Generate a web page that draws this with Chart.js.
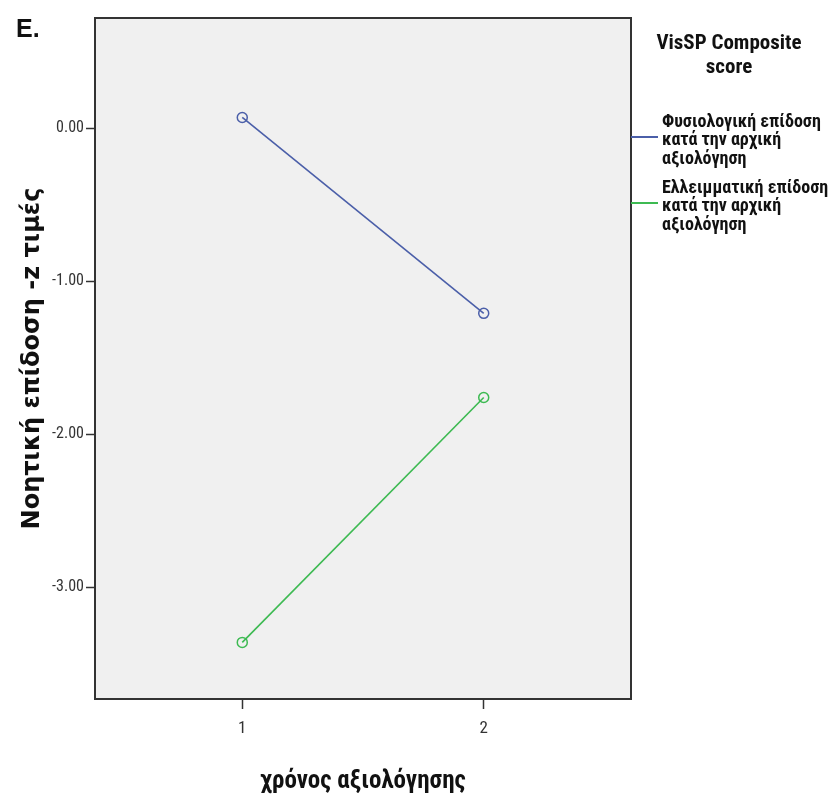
<!DOCTYPE html>
<html>
<head>
<meta charset="utf-8">
<script src="https://cdn.jsdelivr.net/npm/chart.js@4/dist/chart.umd.min.js"></script>
<style>
  html, body { margin: 0; padding: 0; background: #ffffff; }
  #wrap { width: 832px; height: 801px; position: relative; }
</style>
</head>
<body>
<div id="wrap"><canvas id="grafica"></canvas></div>
<script>
// datos
var tiempos = [1, 2];
var normal = [0.07, -1.21];
var deficit = [-3.36, -1.76];
var etiquetasSeries = ["Φυσιολογική επίδοση κατά την αρχική αξιολόγηση", "Ελλειμματική επίδοση κατά την αρχική αξιολόγηση"];
var lineasLeyenda = [["Φυσιολογική επίδοση", "κατά την αρχική", "αξιολόγηση"], ["Ελλειμματική επίδοση", "κατά την αρχική", "αξιολόγηση"]];
var tituloLeyenda = ["VisSP Composite", "score"];
var ticksX = [1, 2];
var ticksY = [0, -1, -2, -3];
var colores = ["#4b5fa9", "#3dba52"];

var fuenteEstrecha = "'Liberation Sans Narrow', 'Arial Narrow', 'Roboto Condensed', 'Liberation Sans', sans-serif";

function puntos(valores) {
  return tiempos.map(function (t, i) { return { x: t, y: valores[i] }; });
}

// fondo gris del área y marco negro
var marcoPlugin = {
  id: "marco",
  beforeDatasetsDraw: function (chart) {
    var a = chart.chartArea, ctx = chart.ctx;
    ctx.save();
    ctx.fillStyle = "#f0f0f0";
    ctx.fillRect(a.left, a.top, a.right - a.left, a.bottom - a.top);
    ctx.restore();
  },
  afterDraw: function (chart) {
    var a = chart.chartArea, ctx = chart.ctx;
    ctx.save();
    ctx.strokeStyle = "#333333";
    ctx.lineWidth = 2;
    ctx.strokeRect(a.left, a.top, a.right - a.left, a.bottom - a.top);
    // letra del panel
    ctx.fillStyle = "#111111";
    ctx.font = "bold 25px 'Liberation Sans', Arial, sans-serif";
    ctx.textBaseline = "alphabetic";
    ctx.textAlign = "left";
    ctx.fillText("E.", 16, 37);
    ctx.restore();
  }
};

// leyenda dibujada a mano, a la derecha del área
var leyendaPlugin = {
  id: "leyendaDerecha",
  afterDraw: function (chart) {
    var a = chart.chartArea, ctx = chart.ctx;
    ctx.save();
    ctx.fillStyle = "#111111";
    ctx.font = "bold 21px " + fuenteEstrecha;
    ctx.textAlign = "center";
    ctx.textBaseline = "middle";
    ctx.fillText(tituloLeyenda[0], 729, 44);
    ctx.fillText(tituloLeyenda[1], 729, 68);

    ctx.font = "bold 18px " + fuenteEstrecha;
    ctx.textAlign = "left";
    var y0 = 122, paso = 18.7, salto = 66;
    chart.data.datasets.forEach(function (ds, k) {
      var lineas = lineasLeyenda[k];
      var yBase = y0 + k * salto;
      lineas.forEach(function (txt, j) {
        ctx.fillText(txt, a.right + 31, yBase + j * paso);
      });
      ctx.strokeStyle = ds.borderColor;
      ctx.lineWidth = 2;
      ctx.beginPath();
      ctx.moveTo(a.right, yBase + 15);
      ctx.lineTo(a.right + 27, yBase + 15);
      ctx.stroke();
    });
    ctx.restore();
  }
};

var datos = {
  datasets: [
    {
      label: etiquetasSeries[0],
      data: puntos(normal),
      borderColor: colores[0],
      backgroundColor: "rgba(0,0,0,0)",
      borderWidth: 1.6,
      pointRadius: 5,
      pointBorderWidth: 1.5,
      pointStyle: "circle"
    },
    {
      label: etiquetasSeries[1],
      data: puntos(deficit),
      borderColor: colores[1],
      backgroundColor: "rgba(0,0,0,0)",
      borderWidth: 1.6,
      pointRadius: 5,
      pointBorderWidth: 1.5,
      pointStyle: "circle"
    }
  ]
};

var opciones = {
  responsive: true,
  maintainAspectRatio: false,
  animation: false,
  layout: { padding: { top: 18, right: 201, bottom: 0, left: 0 } },
  plugins: {
    legend: { display: false },
    tooltip: { enabled: false }
  },
  scales: {
    x: {
      type: "linear",
      min: 0.39,
      max: 2.61,
      afterBuildTicks: function (s) { s.ticks = ticksX.map(function (v) { return { value: v }; }); },
      afterFit: function (s) { s.height = 102; },
      grid: { display: true, drawOnChartArea: false, drawTicks: true, tickLength: 10, color: "#333333", tickColor: "#333333", tickWidth: 1.5 },
      border: { display: false },
      ticks: {
        color: "#333333",
        font: { family: fuenteEstrecha, size: 17 },
        padding: 10,
        callback: function (v) { return String(v); }
      },
      title: {
        display: true,
        text: "χρόνος αξιολόγησης",
        color: "#111111",
        font: { family: fuenteEstrecha, size: 25, weight: "bold" },
        padding: { top: 8 }
      }
    },
    y: {
      type: "linear",
      min: -3.73,
      max: 0.72,
      afterBuildTicks: function (s) { s.ticks = ticksY.map(function (v) { return { value: v }; }); },
      afterFit: function (s) { s.width = 95; },
      grid: { display: true, drawOnChartArea: false, drawTicks: true, tickLength: 9, color: "#333333", tickColor: "#333333", tickWidth: 1.5 },
      border: { display: false },
      ticks: {
        color: "#333333",
        font: { family: fuenteEstrecha, size: 16 },
        padding: 2,
        callback: function (v) { return Number(v).toFixed(2); }
      },
      title: {
        display: true,
        text: "Νοητική επίδοση -z τιμές",
        color: "#111111",
        font: { family: "'DejaVu Sans', Verdana, sans-serif", size: 24, weight: "bold" },
        padding: { bottom: 0, top: 18 }
      }
    }
  }
};

var grafica = new Chart(document.getElementById("grafica"), {
  type: "line",
  data: datos,
  options: opciones,
  plugins: [marcoPlugin, leyendaPlugin]
});
</script>
</body>
</html>
